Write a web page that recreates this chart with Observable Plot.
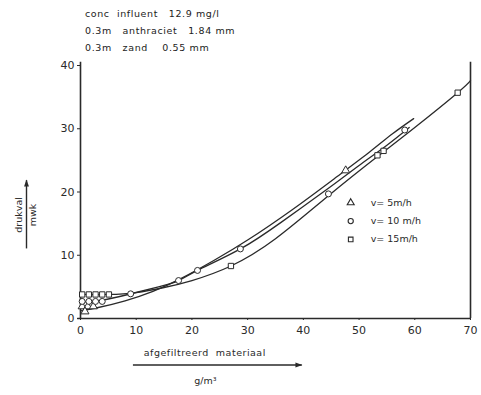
<!DOCTYPE html>
<html>
<head>
<meta charset="utf-8">
<script src="https://cdn.jsdelivr.net/npm/d3@7"></script>
<script src="https://cdn.jsdelivr.net/npm/@observablehq/plot@0.6"></script>
<style>
  body { margin: 0; background: #fff; font-family: "DejaVu Sans", sans-serif; color: #222; }
  #wrap { position: relative; width: 481px; }
  #header { height: 55px; box-sizing: border-box; padding: 5px 0 0 85px; font-size: 9.5px; line-height: 17px; white-space: pre; letter-spacing: 0.6px; }
</style>
</head>
<body>
<div id="wrap">
  <div id="header"></div>
  <div id="chart"></div>
</div>
<script>
// ---- text ----
const headerLines = ["conc  influent   12.9 mg/l", "0.3m   anthraciet   1.84 mm", "0.3m   zand    0.55 mm"];
const xLabel = "afgefiltreerd  materiaal";
const xUnit = "g/m³";
const yLabel = "drukval";
const yUnit = "mwk";
const legendLabels = ["v= 5m/h", "v= 10 m/h", "v= 15m/h"];
const legendSymbols = ["triangle", "circle", "square"];
const xTicks = [0, 10, 20, 30, 40, 50, 60, 70];
const yTicks = [0, 10, 20, 30, 40];

// ---- fitted curves ----
const c5x  = [0, 3, 8, 13, 18, 24, 30, 38, 46, 52, 56, 59.8];
const c5y  = [1.2, 1.7, 2.8, 4.3, 6.3, 9.2, 12.4, 17.2, 22.4, 26.4, 29.2, 31.6];
const c10x = [0, 4, 9, 14, 17.6, 21, 28.7, 36, 44.5, 50, 55, 59];
const c10y = [2.6, 2.9, 3.9, 5.0, 6.0, 7.6, 11.0, 15.2, 20.6, 24.2, 27.4, 30.2];
const c15x = [0, 5, 10, 15, 20, 27, 35, 44.5, 53.3, 60, 67.7, 70];
const c15y = [3.8, 3.8, 4.1, 4.9, 6.0, 8.3, 12.6, 19.4, 25.6, 30.2, 35.7, 37.6];

// ---- measured points ----
const p5x  = [0.3, 1.3, 2.3, 0.8, 47.6];
const p5y  = [1.9, 1.9, 1.9, 1.1, 23.4];
const p10x = [0.3, 1.5, 2.7, 3.9, 9, 17.6, 21, 28.7, 44.5, 58.2];
const p10y = [2.7, 2.7, 2.7, 2.7, 3.9, 6.0, 7.6, 11.0, 19.7, 29.8];
const p15x = [0.3, 1.5, 2.7, 3.9, 5.1, 27, 53.3, 54.4, 67.7];
const p15y = [3.8, 3.8, 3.8, 3.8, 3.8, 8.3, 25.8, 26.5, 35.7];

document.getElementById("header").textContent = headerLines.join("\n");

const zip = (xs, ys, s) => xs.map((x, i) => ({x, y: ys[i], s}));
const curves = [zip(c5x, c5y, 0), zip(c10x, c10y, 1), zip(c15x, c15y, 2)];
const points = [zip(p5x, p5y, 0), zip(p10x, p10y, 1), zip(p15x, p15y, 2)];
const legend = legendLabels.map((t, i) => ({t, sym: legendSymbols[i], x: 48.5, y: 18.3 - i * 2.9}));

const ink = "#2a2a2a";
const chart = Plot.plot({
  width: 481,
  height: 340,
  marginTop: 10,
  marginLeft: 80,
  marginRight: 11,
  marginBottom: 77,
  style: {fontFamily: "DejaVu Sans, sans-serif", fontSize: "11px", color: ink, background: "#fff"},
  x: {domain: [0, 70]},
  y: {domain: [0, 40]},
  marks: [
    Plot.axisX({ticks: xTicks, tickSize: 2, tickPadding: 6, label: null, fontSize: 11}),
    Plot.axisY({ticks: yTicks, tickSize: 3, tickPadding: 3, label: null, fontSize: 11}),
    Plot.ruleX([0, 70], {y1: 0, y2: 40.5, stroke: ink, strokeWidth: 1.6}),
    Plot.ruleY([0], {x1: -0.5, x2: 70, stroke: ink, strokeWidth: 1.6}),
    ...curves.map(c => Plot.line(c, {x: "x", y: "y", curve: "natural", stroke: ink, strokeWidth: 1.3})),
    ...points.map((p, i) => Plot.dot(p, {x: "x", y: "y", symbol: () => legendSymbols[i], r: 3, fill: "white", stroke: ink, strokeWidth: 1})),
    Plot.dot(legend, {x: "x", y: "y", symbol: "sym", r: 2.6, fill: "white", stroke: ink, strokeWidth: 1.1}),
    Plot.text(legend, {x: "x", y: "y", text: "t", dx: 20, textAnchor: "start", fontSize: 9.5})
  ]
});
document.getElementById("chart").appendChild(chart);

// axis titles with arrows (decorations)
const svg = d3.select(chart);
const sx = chart.scale("x"), sy = chart.scale("y");
const defs = svg.append("defs");
defs.append("marker").attr("id", "ah").attr("viewBox", "0 0 10 10").attr("refX", 9).attr("refY", 5)
  .attr("markerWidth", 7).attr("markerHeight", 5).attr("orient", "auto")
  .append("path").attr("d", "M0,1.5 L10,5 L0,8.5 Z").attr("fill", ink);

const y0 = sy.apply(0);
// x title
svg.append("text").attr("x", sx.apply(22.4)).attr("y", y0 + 38).attr("text-anchor", "middle")
  .attr("font-size", 9.5).attr("fill", ink).style("letter-spacing", "0.5px").text(xLabel);
svg.append("line").attr("x1", sx.apply(9.5)).attr("x2", sx.apply(39.8)).attr("y1", y0 + 47).attr("y2", y0 + 47)
  .attr("stroke", ink).attr("stroke-width", 1.4).attr("marker-end", "url(#ah)");
svg.append("text").attr("x", sx.apply(22.5)).attr("y", y0 + 66).attr("text-anchor", "middle")
  .attr("font-size", 9.5).attr("fill", ink).text(xUnit);
// y title
const ym = sy.apply(16.3);
svg.append("text").attr("transform", `translate(22,${ym}) rotate(-90)`).attr("text-anchor", "middle")
  .attr("font-size", 9.5).attr("fill", ink).text(yLabel);
svg.append("text").attr("transform", `translate(36,${ym}) rotate(-90)`).attr("text-anchor", "middle")
  .attr("font-size", 9.5).attr("fill", ink).text(yUnit);
svg.append("line").attr("x1", 26.5).attr("x2", 26.5).attr("y1", sy.apply(11)).attr("y2", sy.apply(21.8))
  .attr("stroke", ink).attr("stroke-width", 1.4).attr("marker-end", "url(#ah)");
</script>
</body>
</html>
